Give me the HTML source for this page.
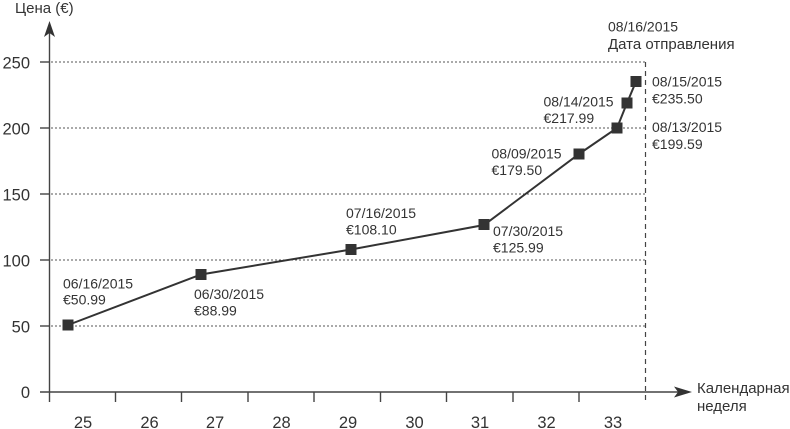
<!DOCTYPE html>
<html>
<head>
<meta charset="utf-8">
<style>
  html,body{margin:0;padding:0;background:#fff;}
  svg{display:block;}
  text{font-family:"Liberation Sans",Arial,sans-serif;fill:#333;}
</style>
</head>
<body>
<svg width="790" height="429" viewBox="0 0 790 429" xmlns="http://www.w3.org/2000/svg">
  <!-- grid lines -->
  <g stroke="#555" stroke-width="1" stroke-dasharray="2,2" fill="none">
    <line x1="51" y1="62" x2="645" y2="62"/>
    <line x1="51" y1="128" x2="645" y2="128"/>
    <line x1="51" y1="194" x2="645" y2="194"/>
    <line x1="51" y1="260" x2="645" y2="260"/>
    <line x1="51" y1="326" x2="645" y2="326"/>
  </g>
  <!-- vertical dashed ship date line -->
  <line x1="645.5" y1="62" x2="645.5" y2="402" stroke="#444" stroke-width="1.2" stroke-dasharray="5,4"/>

  <!-- axes -->
  <g stroke="#444" stroke-width="1.4" fill="none">
    <line x1="49.5" y1="32" x2="49.5" y2="402"/>
    <line x1="40" y1="392" x2="680" y2="392"/>
    <!-- y ticks -->
    <line x1="40" y1="62" x2="49.5" y2="62"/>
    <line x1="40" y1="128" x2="49.5" y2="128"/>
    <line x1="40" y1="194" x2="49.5" y2="194"/>
    <line x1="40" y1="260" x2="49.5" y2="260"/>
    <line x1="40" y1="326" x2="49.5" y2="326"/>
    <!-- x ticks -->
    <line x1="115.5" y1="392" x2="115.5" y2="402"/>
    <line x1="181.5" y1="392" x2="181.5" y2="402"/>
    <line x1="248" y1="392" x2="248" y2="402"/>
    <line x1="314" y1="392" x2="314" y2="402"/>
    <line x1="380.5" y1="392" x2="380.5" y2="402"/>
    <line x1="446.5" y1="392" x2="446.5" y2="402"/>
    <line x1="513" y1="392" x2="513" y2="402"/>
    <line x1="579" y1="392" x2="579" y2="402"/>
  </g>
  <!-- arrowheads -->
  <path d="M49.5,21 L55,37 L49.5,33 L44,37 Z" fill="#333"/>
  <path d="M692,392 L674,386.5 L678,392 L674,397.5 Z" fill="#333"/>

  <!-- y labels -->
  <g font-size="16.5" text-anchor="end">
    <text x="30" y="68.5">250</text>
    <text x="30" y="134.5">200</text>
    <text x="30" y="200.5">150</text>
    <text x="30" y="266.5">100</text>
    <text x="30" y="332.5">50</text>
    <text x="30" y="398">0</text>
  </g>
  <!-- x labels -->
  <g font-size="16.5" text-anchor="middle">
    <text x="83" y="428">25</text>
    <text x="149.5" y="428">26</text>
    <text x="215" y="428">27</text>
    <text x="281.5" y="428">28</text>
    <text x="348" y="428">29</text>
    <text x="414.5" y="428">30</text>
    <text x="480" y="428">31</text>
    <text x="546.5" y="428">32</text>
    <text x="613" y="428">33</text>
  </g>

  <text x="15" y="13" font-size="15">Цена (€)</text>
  <text x="697" y="393" font-size="15">Календарная</text>
  <text x="697" y="411" font-size="15">неделя</text>

  <text x="608" y="31.5" font-size="14">08/16/2015</text>
  <text x="608" y="49" font-size="15">Дата отправления</text>

  <!-- series -->
  <polyline points="68,325 201,274.5 351,249.5 484,225 579,154 617,128 627,103 636,81.5"
            fill="none" stroke="#333" stroke-width="2"/>
  <g fill="#333">
    <rect x="62.5" y="319.5" width="11" height="11"/>
    <rect x="195.5" y="269" width="11" height="11"/>
    <rect x="345.5" y="244" width="11" height="11"/>
    <rect x="478.5" y="219" width="11" height="11"/>
    <rect x="573.5" y="148.5" width="11" height="11"/>
    <rect x="611.5" y="122.5" width="11" height="11"/>
    <rect x="621.5" y="97.5" width="11" height="11"/>
    <rect x="630.5" y="76" width="11" height="11"/>
  </g>

  <!-- data labels -->
  <g font-size="14">
    <text x="63" y="288.5">06/16/2015</text>
    <text x="63" y="304.5">€50.99</text>
    <text x="194" y="299">06/30/2015</text>
    <text x="194" y="315.5">€88.99</text>
    <text x="346" y="218">07/16/2015</text>
    <text x="346" y="234.5">€108.10</text>
    <text x="493" y="236">07/30/2015</text>
    <text x="493" y="252.5">€125.99</text>
    <text x="491.5" y="158.5">08/09/2015</text>
    <text x="491.5" y="175">€179.50</text>
    <text x="543.5" y="106.5">08/14/2015</text>
    <text x="543.5" y="123">€217.99</text>
    <text x="652" y="86.5">08/15/2015</text>
    <text x="652" y="103.5">€235.50</text>
    <text x="652" y="132">08/13/2015</text>
    <text x="652" y="149">€199.59</text>
  </g>
</svg>
</body>
</html>
